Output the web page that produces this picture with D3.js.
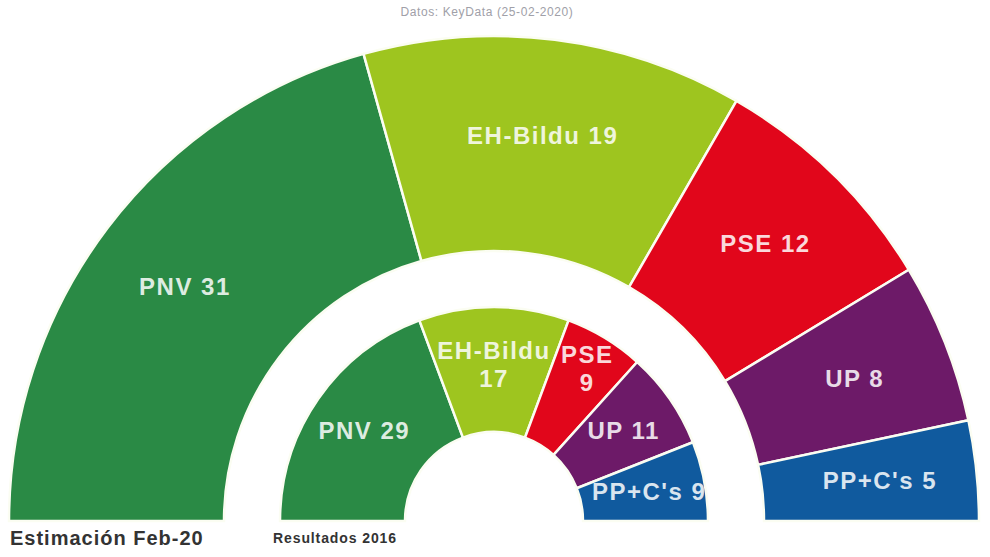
<!DOCTYPE html>
<html>
<head>
<meta charset="utf-8">
<script src="https://cdn.jsdelivr.net/npm/d3@7"></script>
<style>
  body { margin: 0; background: #fff; }
  svg { display: block; font-family: "Liberation Sans", Arial, sans-serif; }
</style>
</head>
<body>
<script>
'use strict';

// parties in seat order, left to right
let parties = ["PNV", "EH-Bildu", "PSE", "UP", "PP+C's"];
let seatsFeb20 = [31, 19, 12, 8, 5];
let seats2016 = [29, 17, 9, 11, 9];
let partyColors = ["#2a8a45", "#9ec51f", "#e1061b", "#6d1a68", "#105a9e"];

// labels that break on two lines in the small ring
let innerBreak = {"EH-Bildu": true, "PSE": true};

(function() {

  let svg = d3.select('body')
    .append('svg')
    .attr('width', 990)
    .attr('height', 557);

  let cx = 494, cy = 521;

  let pie = d3.pie()
    .sort(null)
    .startAngle(-Math.PI / 2)
    .endAngle(Math.PI / 2);

  let color = d3.scaleOrdinal().domain(parties).range(partyColors);

  function toRows(values) {
    return parties.map((p, i) => ({party: p, seats: values[i]}));
  }

  // draw one half ring
  function drawRing(values, r0, r1, labelR, twoLine) {
    let rows = toRows(values);
    let arcs = pie.value(d => d.seats)(rows);
    let arc = d3.arc().innerRadius(r0).outerRadius(r1);

    let g = svg.append('g').attr('transform', 'translate(' + cx + ',' + cy + ')');

    g.selectAll('path')
      .data(arcs)
      .enter()
      .append('path')
        .attr('d', arc)
        .attr('fill', d => color(d.data.party))
        .attr('stroke', '#fbfdf2')
        .attr('stroke-width', 2.5)
        .attr('stroke-linejoin', 'miter');

    let labelArc = d3.arc().innerRadius(labelR).outerRadius(labelR);

    arcs.forEach(function(d) {
      // two line labels sit a bit further out
      let r = (twoLine && innerBreak[d.data.party] && d.data.party != "EH-Bildu") ? labelR + 22 : labelR;
      let c = d3.arc().innerRadius(r).outerRadius(r).centroid(d);
      let t = g.append('text')
        .attr('x', c[0])
        .attr('y', c[1])
        .attr('text-anchor', 'middle')
        .attr('fill', '#ffffff')
        .attr('fill-opacity', 0.85)
        .style('font-size', '24px')
        .style('font-weight', 'bold')
        .style('letter-spacing', '1.5px');
      if (twoLine && innerBreak[d.data.party]) {
        t.append('tspan').attr('x', c[0]).attr('dy', '-0.15em').text(d.data.party);
        t.append('tspan').attr('x', c[0]).attr('dy', '1.15em').text(d.data.seats);
      } else {
        t.attr('dy', '0.35em').text(d.data.party + ' ' + d.data.seats);
      }
    });
    return g;
  }

  drawRing(seatsFeb20, 270, 485, 388, false);
  drawRing(seats2016, 89, 214, 158, true);

  svg.append('text')
    .attr('x', 487)
    .attr('y', 16)
    .attr('text-anchor', 'middle')
    .attr('fill', '#a0a0a8')
    .style('font-size', '12px')
    .style('letter-spacing', '0.6px')
    .text('Datos: KeyData (25-02-2020)');

  svg.append('text')
    .attr('x', 10)
    .attr('y', 545)
    .attr('fill', '#333')
    .style('font-size', '20px')
    .style('font-weight', 'bold')
    .style('letter-spacing', '1px')
    .text('Estimación Feb-20');

  svg.append('text')
    .attr('x', 273)
    .attr('y', 543)
    .attr('fill', '#333')
    .style('font-size', '14px')
    .style('font-weight', 'bold')
    .style('letter-spacing', '0.9px')
    .text('Resultados 2016');

})();
</script>
</body>
</html>
